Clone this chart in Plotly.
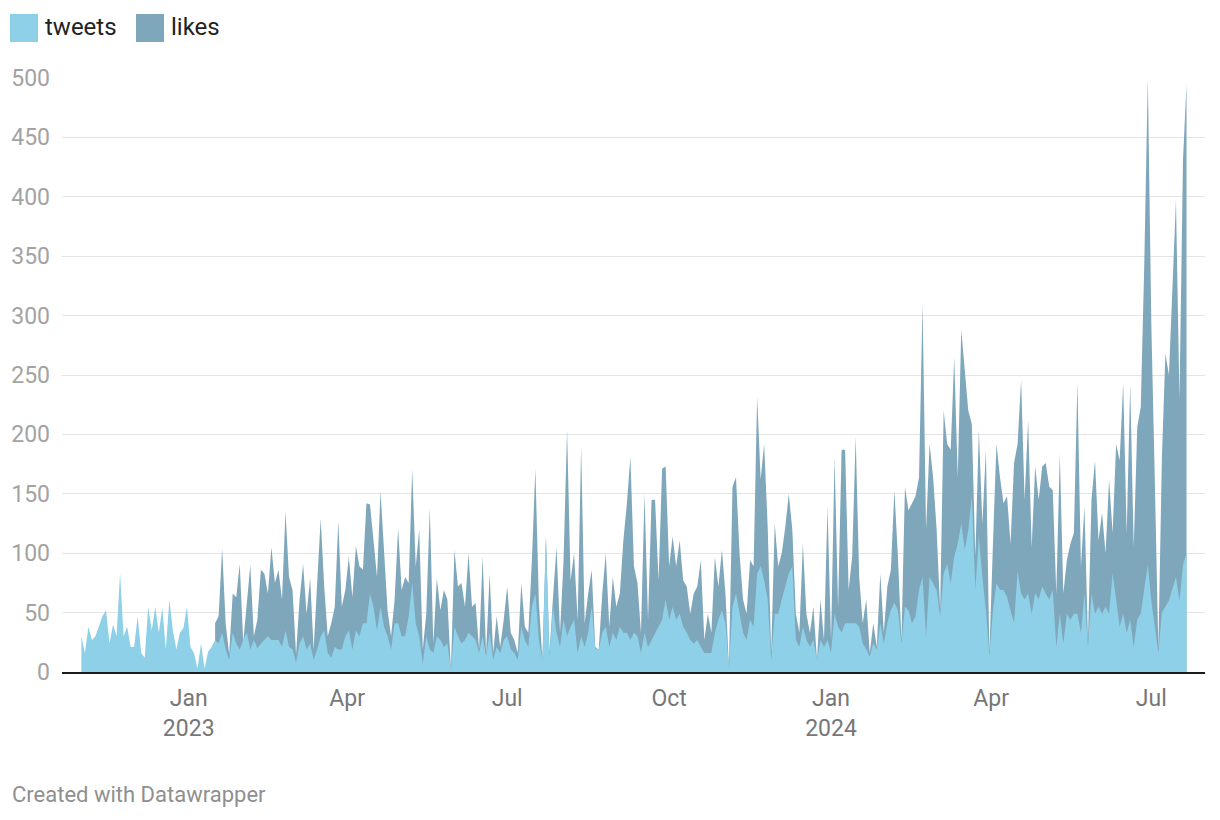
import pandas as pd
import plotly.graph_objects as go

# every second day, 2022-11-01 .. 2024-07-21
dates = pd.date_range("2022-11-01", periods=315, freq="2D")

tweets = [
    30, 16, 38, 27, 30, 38, 47, 52, 24, 40, 30, 83, 30, 38, 21, 21, 47, 16, 12, 55,
    35, 55, 33, 54, 19, 61, 35, 19, 33, 37, 55, 21, 16, 3, 24, 3, 17, 21,
    27, 24, 33, 19, 10, 33, 24, 19, 27, 33, 19, 27, 20, 24, 27, 30, 27,
    27, 27, 21, 35, 21, 19, 8, 24, 30, 19, 24, 10, 19, 30, 35, 16, 12, 21, 19, 19,
    30, 35, 19, 35, 30, 41, 41, 66, 55, 35, 55, 38, 30, 19, 41, 41, 30, 30, 47, 75,
    41, 30, 7, 30, 19, 16, 30, 27, 21, 24, 2, 38, 30, 24,
    27, 33, 30, 27, 16, 30, 13, 33, 10, 21, 16, 27, 30, 19, 16, 10, 38, 27, 21, 55,
    66, 27, 10, 114, 13, 55, 33, 21, 44, 30, 38, 44, 16, 30, 21, 33, 55, 20, 19, 33,
    38, 21, 33, 27, 38, 33, 33, 27, 33, 30, 16, 33, 21, 27,
    33, 38, 44, 61, 44, 55, 44, 49, 38, 33, 27, 24, 27, 21, 16, 16, 16, 33, 44, 52,
    41, 4, 55, 66, 49, 33, 27, 44, 38, 83, 89, 77, 61, 10, 49, 49, 61, 72, 83, 89,
    27, 21, 38, 27, 21, 27, 10, 27, 21, 27, 16, 49, 38, 33,
    41, 41, 41, 41, 38, 24, 19, 13, 24, 19, 41, 24, 41, 52, 58, 52, 24, 55, 52, 41,
    47, 69, 80, 30, 80, 75, 69, 47, 83, 91, 75, 97, 108, 125, 103, 120, 148, 69, 114, 80,
    52, 13, 52, 75, 69, 69, 63, 52, 41,
    85, 66, 61, 66, 49, 66, 61, 72, 66, 61, 69, 21, 49, 24, 49, 44, 49, 49, 33, 66,
    21, 66, 49, 55, 49, 55, 49, 83, 61, 38, 49, 33, 44, 21, 44, 49, 70, 90, 60, 40,
    16, 50, 55, 60, 70, 80, 60, 90, 100,
]

likes = [None] * 38 + [
    41, 47, 104, 41, 15, 66, 63, 91, 25, 61, 90, 30, 44, 86, 83, 66, 105,
    75, 86, 61, 135, 80, 69, 15, 61, 91, 49, 79, 19, 75, 129, 72, 30, 41, 55, 127, 55,
    69, 97, 63, 106, 89, 86, 142, 141, 111, 80, 152, 97, 52, 30, 61, 121, 69, 80, 75,
    171, 89, 120, 19, 49, 138, 24, 79, 52, 69, 61, 2, 103, 72, 75,
    55, 100, 55, 58, 19, 97, 16, 83, 16, 47, 21, 44, 72, 33, 27, 16, 75, 38, 33, 94,
    171, 58, 10, 114, 16, 63, 105, 33, 94, 204, 77, 100, 44, 190, 41, 66, 86, 21, 19, 66,
    100, 38, 80, 55, 66, 111, 142, 181, 89, 75, 33, 150, 44, 145,
    145, 77, 171, 173, 89, 114, 89, 111, 77, 72, 49, 66, 72, 94, 27, 49, 33, 97, 72, 103,
    66, 4, 156, 164, 100, 61, 49, 94, 89, 232, 162, 192, 122, 16, 125, 89, 100, 122, 150, 120,
    49, 33, 108, 49, 33, 55, 10, 61, 27, 139, 27, 181, 55, 187,
    187, 69, 97, 198, 80, 41, 61, 16, 41, 21, 83, 33, 72, 86, 153, 97, 27, 156, 136, 142,
    148, 164, 310, 120, 192, 164, 120, 52, 220, 192, 187, 265, 164, 288, 254, 220, 209, 97, 204, 125,
    187, 16, 108, 192, 164, 142, 148, 108, 176,
    192, 246, 145, 212, 105, 173, 145, 173, 176, 156, 153, 66, 184, 66, 94, 108, 117, 244, 89, 139,
    27, 145, 178, 111, 134, 100, 162, 117, 192, 178, 243, 117, 242, 105, 206, 223, 344, 500, 293, 160,
    20, 180, 268, 250, 324, 397, 230, 431, 495,
]

tick_dates = ["2023-01-01", "2023-04-01", "2023-07-01", "2023-10-01",
              "2024-01-01", "2024-04-01", "2024-07-01"]
tick_text = ["Jan<br>2023", "Apr", "Jul", "Oct", "Jan<br>2024", "Apr", "Jul"]
y_ticks = [0, 50, 100, 150, 200, 250, 300, 350, 400, 450, 500]

_TWEETS = "#8dd0e8"
_LIKES = "#7fa7bc"
_GRID = "#e4e4e4"
_FONT = "Roboto, Arial, sans-serif"

# the page body has an 8px margin, so everything is placed 8px up/left
W, H = 1220, 820
ML, MR, MT, MB = 54, 23, 70, 156


def px(x):
    return (x - ML) / (W - ML - MR)


def py(y):
    return 1 - (y - MT) / (H - MT - MB)


fig = go.Figure()
# likes behind, tweets in front
fig.add_trace(go.Scatter(x=dates, y=likes, name="likes", mode="lines",
                         line={"width": 0, "color": _LIKES}, fill="tozeroy",
                         fillcolor=_LIKES, showlegend=False))
fig.add_trace(go.Scatter(x=dates, y=tweets, name="tweets", mode="lines",
                         line={"width": 0, "color": _TWEETS}, fill="tozeroy",
                         fillcolor=_TWEETS, showlegend=False))

# hand-made legend swatches, Datawrapper style
for x0, color, label in [(2, _TWEETS, "tweets"), (128, _LIKES, "likes")]:
    fig.add_shape(type="rect", xref="paper", yref="paper",
                  x0=px(x0), x1=px(x0 + 28), y0=py(34), y1=py(6),
                  fillcolor=color, line_width=0)
    fig.add_annotation(text=label, xref="paper", yref="paper",
                       x=px(x0 + 33), y=py(19), xanchor="left", yanchor="middle",
                       showarrow=False, font={"size": 24, "color": "#222222"})

fig.add_annotation(text="Created with Datawrapper", xref="paper", yref="paper",
                   x=px(2), y=py(787), xanchor="left", yanchor="middle",
                   showarrow=False, font={"size": 22, "color": "#8f8f8f"})

fig.update_layout(
    width=W, height=H,
    margin={"l": ML, "r": MR, "t": MT, "b": MB},
    paper_bgcolor="white", plot_bgcolor="white",
    font={"family": _FONT},
    showlegend=False,
    xaxis={
        "range": ["2022-10-21", "2024-07-31 12:00"],
        "tickvals": tick_dates, "ticktext": tick_text,
        "tickfont": {"size": 23, "color": "#777777"},
        "showgrid": False, "zeroline": False,
        "showline": True, "linecolor": "#1b1b1b", "linewidth": 2,
        "ticks": "", "ticklabelstandoff": 4, "automargin": False,
    },
    yaxis={
        "range": [0, 500], "tickvals": y_ticks,
        "tickfont": {"size": 23, "color": "#a3a3a3"},
        "gridcolor": _GRID, "gridwidth": 1, "zeroline": False,
        "ticks": "", "ticklabelstandoff": 11, "automargin": False,
    },
)

fig.write_html("out.html")
